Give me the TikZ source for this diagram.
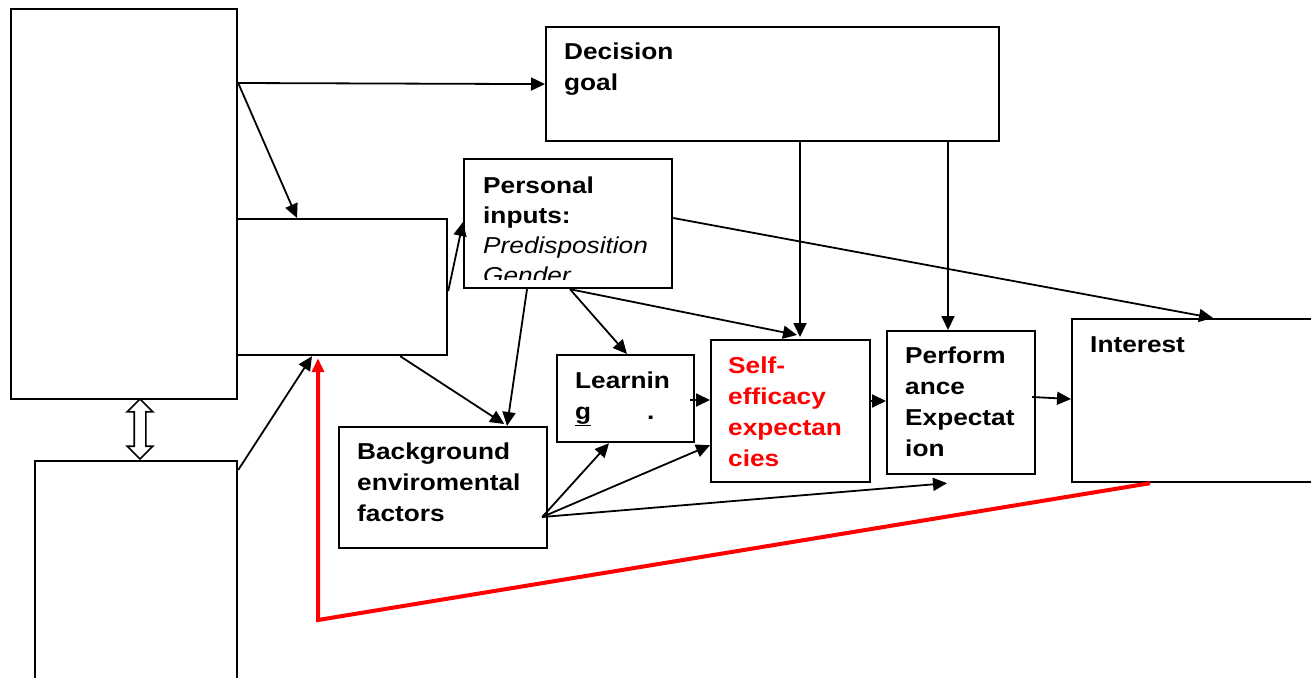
\documentclass[tikz,border=0pt]{standalone}
\usepackage{fontspec}
\setmainfont{Liberation Sans}[FakeStretch=1.14]
\usetikzlibrary{arrows.meta,shapes.arrows}

\tikzset{
  box/.style={draw, line width=2.2pt, anchor=north west, inner sep=0pt},
  txt/.style={anchor=north west, align=left, inner sep=0pt,
    font=\fontsize{23}{31}\selectfont\bfseries},
  arr/.style={line width=1.8pt, -{Triangle[length=14pt,width=13pt]}},
  redarr/.style={line width=4pt, red, -{Triangle[length=14pt,width=12pt]}},
}

\begin{document}
\begin{tikzpicture}[x=1pt,y=-1pt]
  \useasboundingbox (0,0) rectangle (1311,677);

  % boxes
  \node[box, minimum width=226pt, minimum height=390pt] (a) at (10,8) {};
  \node[box, minimum width=202pt, minimum height=240pt] (b) at (34,460) {};
  \node[box, minimum width=210pt, minimum height=136pt] (c) at (236,218) {};
  \node[box, minimum width=453pt, minimum height=114pt] (d) at (545,26) {};
  \node[box, minimum width=208pt, minimum height=129pt] (p) at (463,158) {};
  \node[box, minimum width=137pt, minimum height=87pt] (l) at (556,354) {};
  \node[box, minimum width=159pt, minimum height=142pt] (s) at (710,339) {};
  \node[box, minimum width=148pt, minimum height=143pt] (e) at (886,330) {};
  \node[box, minimum width=250pt, minimum height=163pt] (i) at (1071,318) {};
  \node[box, minimum width=208pt, minimum height=121pt] (g) at (338,426) {};

  % texts
  \node[txt] (dtxt) at ([xshift=19pt,yshift=-16.5pt]d.north west) {Decision\\goal};
  \begin{scope}
    \clip ([xshift=1pt,yshift=-1pt]p.north west) rectangle ([xshift=-1pt,yshift=10pt]p.south east);
    \node[txt, font=\fontsize{23}{30}\selectfont\bfseries] (ptxt)
      at ([xshift=20pt,yshift=-18.5pt]p.north west)
      {Personal\\inputs:\\\normalfont\itshape Predisposition\\\normalfont\itshape Gender};
  \end{scope}
  \node[txt] (ltxt) at ([xshift=19pt,yshift=-17.5pt]l.north west)
    {Learnin\\\underline{g}\hspace{56pt}.};
  \node[txt, text=red] (stxt) at ([xshift=18pt,yshift=-17.5pt]s.north west)
    {Self-\\efficacy\\expectan\\cies};
  \node[txt] (etxt) at ([xshift=19pt,yshift=-16.5pt]e.north west)
    {Perform\\ance\\Expectat\\ion};
  \node[txt] (itxt) at ([xshift=19pt,yshift=-18.5pt]i.north west) {Interest};
  \node[txt] (gtxt) at ([xshift=19pt,yshift=-16.5pt]g.north west)
    {Background\\enviromental\\factors};

  % two-way link
  \node[double arrow, draw, line width=1.6pt, rotate=90, minimum height=60pt,
    inner sep=5pt, double arrow head extend=7pt] (link) at (140,429) {};

  % connectors
  \draw[arr] ([yshift=-75pt]a.north east) -- (d.west);
  \draw[arr] ([yshift=-75pt]a.north east) -- ([xshift=61pt]c.north west);
  \draw[arr] ([yshift=-4pt]c.east) -- ([yshift=-64pt]p.north west);
  \draw[arr] ([xshift=-48pt]c.south east) -- ([xshift=-44pt,yshift=2pt]g.north east);
  \draw[arr] ([yshift=-10pt]b.north east) -- ([xshift=76pt]c.south west);
  \draw[arr] ([xshift=64pt]p.south west) -- ([xshift=169pt]g.north west);
  \draw[arr] ([xshift=107pt]p.south west) -- ([xshift=71pt]l.north west);
  \draw[arr] ([xshift=107pt]p.south west) -- ([xshift=87pt,yshift=4pt]s.north west);
  \draw[arr] ([yshift=-60pt]p.north east) -- ([xshift=142pt]i.north west);
  \draw[arr] ([xshift=255pt]d.south west) -- ([xshift=90pt,yshift=2pt]s.north west);
  \draw[arr] ([xshift=403pt]d.south west) -- ([xshift=62pt]e.north west);
  \draw[arr] ([xshift=-5pt,yshift=-46pt]l.north east) -- ([yshift=-61pt]s.north west);
  \draw[arr] ([yshift=-62pt]s.north east) -- ([yshift=-71pt]e.north west);
  \draw[arr] ([xshift=-4pt,yshift=-67pt]e.north east) -- ([yshift=-81pt]i.north west);
  \draw[arr] ([xshift=-6pt,yshift=-91pt]g.north east) -- ([xshift=53pt]l.south west);
  \draw[arr] ([xshift=-6pt,yshift=-91pt]g.north east) -- ([yshift=38pt]s.south west);
  \draw[arr] ([xshift=-6pt,yshift=-91pt]g.north east) -- ([xshift=61pt,yshift=-8pt]e.south west);

  % feedback loop
  \coordinate (bend) at (318,620);
  \draw[redarr] ([xshift=79pt]i.south west) -- (bend) -- ([xshift=82pt,yshift=-2pt]c.south west);
\end{tikzpicture}
\end{document}
